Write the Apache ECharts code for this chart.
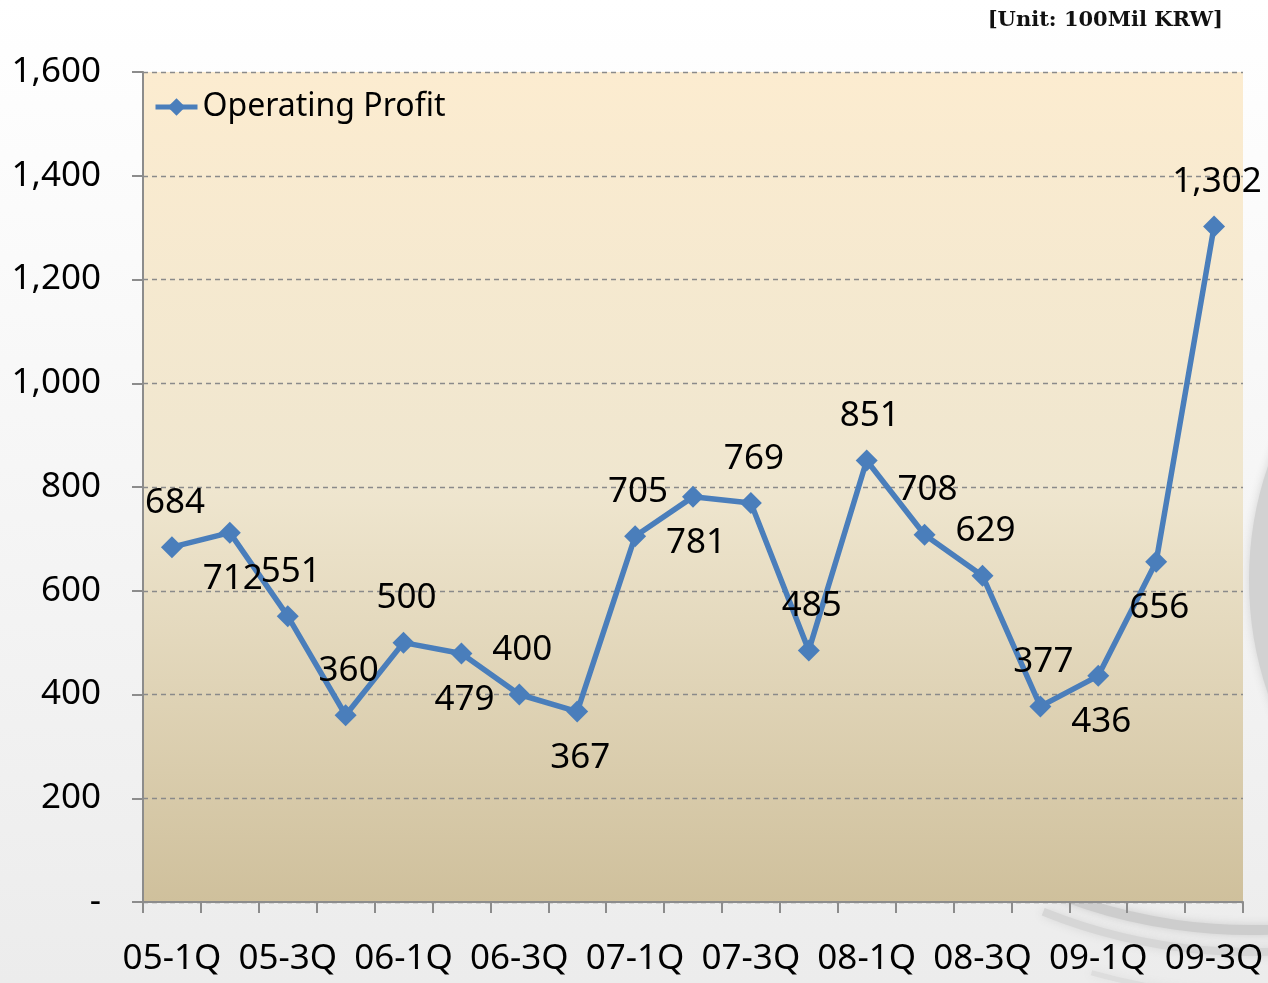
<!DOCTYPE html>
<html>
<head>
<meta charset="UTF-8">
<title>Operating Profit</title>
<style>
  html, body { margin: 0; padding: 0; }
  #main { width: 1268px; height: 983px; }
</style>
</head>
<body>
<div id="main"></div>
<script src="https://cdn.jsdelivr.net/npm/echarts@6/dist/echarts.min.js"></script>
<script>
var quarters = ['05-1Q','05-2Q','05-3Q','05-4Q','06-1Q','06-2Q','06-3Q','06-4Q',
                '07-1Q','07-2Q','07-3Q','07-4Q','08-1Q','08-2Q','08-3Q','08-4Q',
                '09-1Q','09-2Q','09-3Q'];
var profit = [684, 712, 551, 360, 500, 479, 400, 367, 705, 781, 769, 485, 851, 708, 629, 377, 436, 656, 1302];
var yTicks = [0, 200, 400, 600, 800, 1000, 1200, 1400, 1600];

// which labels sit under the point
var below = [1, 5, 7, 9, 16, 17];

function fmt(v) {
    if (v === 0) return '-';
    return v.toString().replace(/\B(?=(\d{3})+(?!\d))/g, ',');
}

var chart = echarts.init(document.getElementById('main'));
var font = 'Noto Sans';
var blue = '#4a7ebb';

var seriesData = profit.map(function (v, i) {
    var isBelow = below.indexOf(i) >= 0;
    return {
        value: v,
        label: { position: isBelow ? 'bottom' : 'top', distance: isBelow ? 18 : 16 }
    };
});

// faint grey swirl of the slide background
function swirl(cx, cy, r, a0, a1, w, c) {
    return {
        type: 'arc', z: -100, silent: true,
        shape: { cx: cx, cy: cy, r: r, startAngle: a0 * Math.PI / 180, endAngle: a1 * Math.PI / 180 },
        style: { fill: null, stroke: c, lineWidth: w, shadowBlur: 10, shadowColor: c }
    };
}

var option = {
    animation: false,
    backgroundColor: new echarts.graphic.LinearGradient(0, 0, 0, 1, [
        { offset: 0, color: '#ffffff' },
        { offset: 1, color: '#ececec' }
    ]),
    textStyle: { fontFamily: font },
    graphic: [
        swirl(1600, 580, 340, 135, 225, 22, '#d2d2d2'),
        swirl(1250, 400, 530, 78, 118, 10, '#cdcdcd'),
        swirl(1250, 400, 552, 78, 112, 8, '#d6d6d6'),
        swirl(1250, 420, 575, 78, 106, 5, '#dddddd')
    ],
    title: {
        text: '[Unit: 100Mil KRW]',
        right: 40,
        top: 5,
        textStyle: { fontFamily: 'DejaVu Serif', fontWeight: 'bold', fontSize: 21, color: '#111' }
    },
    legend: {
        left: 148,
        top: 86,
        itemWidth: 42,
        itemHeight: 22,
        itemGap: 4,
        lineStyle: { width: 5 },
        textStyle: { fontFamily: font, fontSize: 32, color: '#000' },
        data: ['Operating Profit']
    },
    grid: {
        left: 143,
        right: 25,
        top: 72,
        bottom: 81,
        show: true,
        borderWidth: 0,
        backgroundColor: new echarts.graphic.LinearGradient(0, 0, 0, 1, [
            { offset: 0, color: '#fcecd0' },
            { offset: 0.5, color: '#efe6cf' },
            { offset: 1, color: '#cfc09c' }
        ])
    },
    xAxis: {
        type: 'category',
        data: quarters,
        boundaryGap: true,
        axisLine: { lineStyle: { color: '#8c8c8c', width: 2 } },
        axisTick: { show: true, interval: 0, length: 11, lineStyle: { color: '#8c8c8c', width: 2 } },
        axisLabel: {
            interval: 1,
            margin: 40,
            fontSize: 35,
            color: '#000',
            fontFamily: font
        },
        splitLine: { show: false }
    },
    yAxis: {
        type: 'value',
        min: yTicks[0],
        max: yTicks[yTicks.length - 1],
        interval: 200,
        axisLine: { show: true, lineStyle: { color: '#8c8c8c', width: 2 } },
        axisTick: { show: true, length: 11, lineStyle: { color: '#8c8c8c', width: 2 } },
        axisLabel: {
            margin: 42,
            fontSize: 35,
            color: '#000',
            fontFamily: font,
            formatter: fmt
        },
        splitLine: { show: true, lineStyle: { color: '#8a8a8a', type: [5, 4], width: 1.3 } }
    },
    series: [{
        name: 'Operating Profit',
        type: 'line',
        data: seriesData,
        symbol: 'diamond',
        symbolSize: 22,
        lineStyle: { color: blue, width: 5.5 },
        itemStyle: { color: blue },
        label: {
            show: true,
            fontSize: 35,
            color: '#000',
            fontFamily: font,
            offset: [3, 0],
            formatter: function (p) { return fmt(p.value); }
        },
        z: 3
    }]
};

chart.setOption(option);
</script>
</body>
</html>
